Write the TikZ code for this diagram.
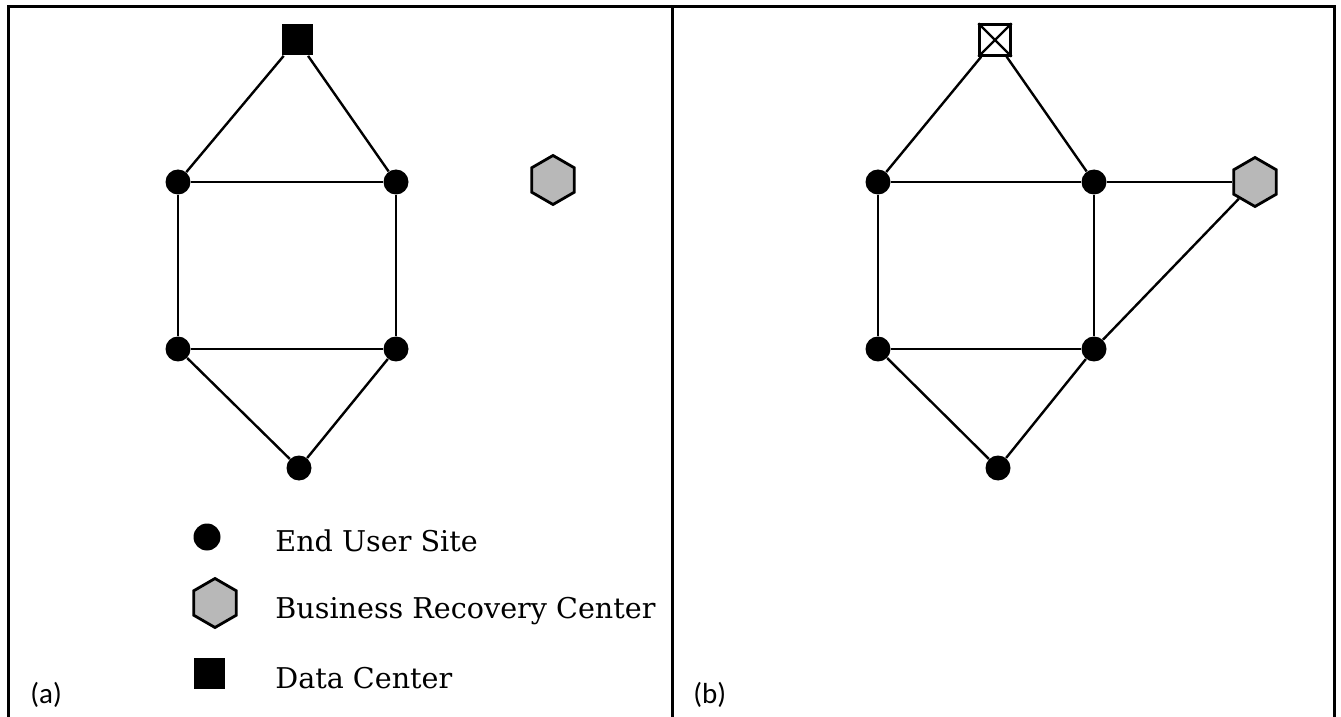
\documentclass[tikz,border=0pt]{standalone}
\usepackage{fontspec}
\setmainfont{DejaVu Serif}
\newfontfamily\labelfont{Carlito}
\usetikzlibrary{shapes.geometric}
\begin{document}
\begin{tikzpicture}[x=0.5pt,y=-0.5pt,
  frame/.style={line width=1.5pt},
  link/.style={line width=1.2pt},
  site/.style={circle,fill=black,inner sep=0pt,minimum size=12.5pt},
  recovery/.style={regular polygon,regular polygon sides=6,shape border rotate=30,
    draw,line width=1.4pt,fill=black!28,inner sep=0pt,minimum size=24.5pt},
  datactr/.style={rectangle,fill=black,inner sep=0pt,minimum size=15.5pt},
  datadown/.style={rectangle,draw,line width=1.2pt,fill=white,inner sep=0pt,minimum size=15.5pt},
  legendtext/.style={anchor=base west,font=\fontsize{14.3}{16}\selectfont,inner sep=0pt},
  panellabel/.style={anchor=base west,font=\labelfont\fontsize{14.5}{16}\selectfont,inner sep=0pt}]
\useasboundingbox (0,0) rectangle (1341,717);
% panel frames
\coordinate (tl) at (8,7);
\coordinate (tr) at (1334,7);
\coordinate (tm) at (672,7);
\coordinate (bl) at (8,717);
\coordinate (br) at (1334,717);
\coordinate (bm) at (672,717);
\draw[frame] (bl) -- (tl) -- (tr) -- (br);
\draw[frame] (tm) -- (bm);

% panel (a)
\node[datactr] (a0) at (297,40) {};
\node[site] (a1) at (178,182) {};
\node[site] (a2) at (396,182) {};
\node[site] (a3) at (178,349) {};
\node[site] (a4) at (396,349) {};
\node[site] (a5) at (299,468) {};
\node[recovery] (ah) at (553,180) {};
\draw[link] (a0) -- (a1);
\draw[link] (a0) -- (a2);
\draw[link] (a1) -- (a2);
\draw[link] (a1) -- (a3);
\draw[link] (a2) -- (a4);
\draw[link] (a3) -- (a4);
\draw[link] (a3) -- (a5);
\draw[link] (a4) -- (a5);

% legend
\node[site,minimum size=13.5pt] (l1) at (207,537) {};
\node[recovery] (l2) at (215,603) {};
\node[datactr] (l3) at (209,673) {};
\node[legendtext] (t1) at (275,551) {End User Site};
\node[legendtext] (t2) at (275,618) {Business Recovery Center};
\node[legendtext] (t3) at (275,688) {Data Center};
\node[panellabel] (la) at (30,703) {(a)};

% panel (b)
\node[datadown] (b0) at (995,40) {};
\draw[link] (b0.north west) -- (b0.south east);
\draw[link] (b0.north east) -- (b0.south west);
\node[site] (b1) at (878,182) {};
\node[site] (b2) at (1094,182) {};
\node[site] (b3) at (878,349) {};
\node[site] (b4) at (1094,349) {};
\node[site] (b5) at (998,468) {};
\node[recovery] (bh) at (1255,182) {};
\draw[link] (b0) -- (b1);
\draw[link] (b0) -- (b2);
\draw[link] (b1) -- (b2);
\draw[link] (b1) -- (b3);
\draw[link] (b2) -- (b4);
\draw[link] (b3) -- (b4);
\draw[link] (b3) -- (b5);
\draw[link] (b4) -- (b5);
\draw[link] (b2) -- (bh);
\draw[link] (b4) -- (bh);
\node[panellabel] (lb) at (693,703) {(b)};
\end{tikzpicture}
\end{document}
